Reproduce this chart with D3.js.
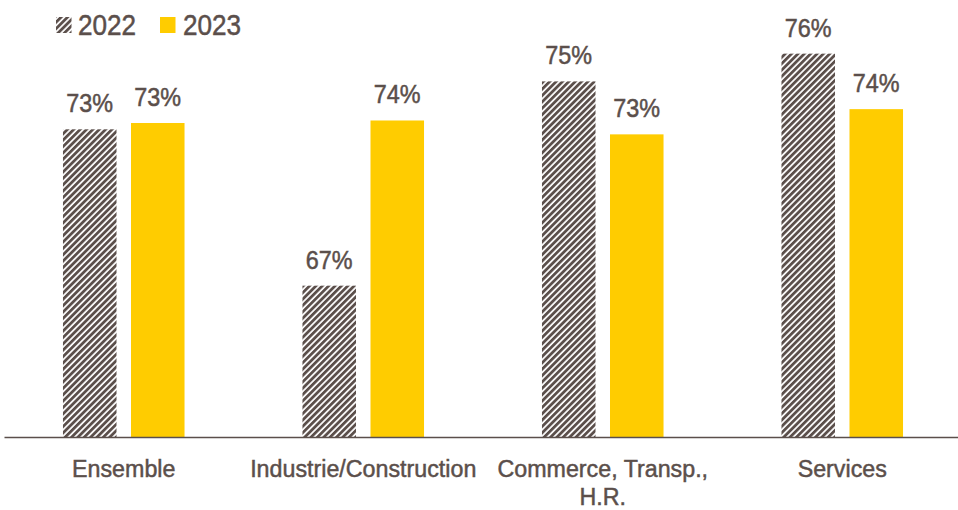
<!DOCTYPE html>
<html>
<head>
<meta charset="utf-8">
<script src="https://cdn.jsdelivr.net/npm/d3@7"></script>
<style>
  html, body { margin: 0; padding: 0; background: #fff; }
  svg { display: block; }
  text { font-family: "Liberation Sans", Arial, sans-serif; fill: #5b4f4b; stroke: #5b4f4b; stroke-width: 0.5px; }
</style>
</head>
<body>
<svg id="chart" width="958" height="510"></svg>
<script>
// Taux par secteur, 2022 vs 2023 (%)
const categories = ["Ensemble", "Industrie/Construction", "Commerce, Transp., H.R.", "Services"];
const seriesNames = ["2022", "2023"];
const values2022 = [73.2, 67.0, 75.1, 76.2];
const values2023 = [73.45, 73.55, 73.0, 74.0];

const baseY = 437;
const ink = "#5b4f4b";
const svg = d3.select("#chart");

// Striped fill used for the 2022 series
const defs = svg.append("defs");
const pat = defs.append("pattern")
  .attr("id", "stripes")
  .attr("patternUnits", "userSpaceOnUse")
  .attr("width", 4.5).attr("height", 4.5)
  .attr("patternTransform", "rotate(45)");
pat.append("rect").attr("width", 4.5).attr("height", 4.5).attr("fill", "#ffffff");
pat.append("rect").attr("width", 2.8).attr("height", 4.5).attr("fill", ink);

const fills = { "2022": "url(#stripes)", "2023": "#ffcc00" };

const x0 = d3.scaleBand().domain(categories).range([4, 962]).paddingInner(0).paddingOuter(0);
const x1 = d3.scaleBand().domain(seriesNames).range([0, x0.bandwidth()]).paddingInner(0.213).paddingOuter(0.867);
const y = d3.scaleLinear().domain([61, 78]).range([baseY, 8.26]);

const rows = categories.map((c, i) => ({ cat: c, vals: [
  { key: "2022", v: values2022[i] },
  { key: "2023", v: values2023[i] }
]}));

const fmt = v => d3.format(".0f")(v) + "%";

const groups = svg.append("g").selectAll("g").data(rows).join("g")
  .attr("transform", d => `translate(${x0(d.cat)},0)`);

groups.selectAll("rect").data(d => d.vals).join("rect")
  .attr("x", d => x1(d.key))
  .attr("width", x1.bandwidth())
  .attr("y", d => y(d.v))
  .attr("height", d => baseY - y(d.v))
  .attr("fill", d => fills[d.key]);

// Value labels, narrowed horizontally
groups.selectAll("text.val").data(d => d.vals).join("text")
  .attr("class", "val")
  .attr("transform", d => `translate(${x1(d.key) + x1.bandwidth() / 2},${y(d.v) - 17}) scale(0.9,1)`)
  .attr("text-anchor", "middle")
  .style("font-size", "26px")
  .text(d => fmt(d.v));

// Category axis
const axis = svg.append("g")
  .attr("transform", `translate(0,${baseY})`)
  .call(d3.axisBottom(x0).tickSize(0).tickPadding(0));
axis.select(".domain").attr("stroke", ink).attr("stroke-width", 1.6);
axis.selectAll(".tick text").remove();

// Wrapped category labels
const sx = 0.95;
axis.selectAll(".tick").each(function(d) {
  const t = d3.select(this).append("text")
    .attr("text-anchor", "middle")
    .attr("transform", `scale(${sx},1)`)
    .style("font-size", "24.5px");
  const words = d.split(" ");
  let line = [], lineNo = 0;
  let ts = t.append("tspan").attr("x", 0).attr("y", 40.5);
  for (const w of words) {
    line.push(w);
    ts.text(line.join(" "));
    if (ts.node().getComputedTextLength() * sx > 236 && line.length > 1) {
      line.pop();
      ts.text(line.join(" "));
      line = [w];
      lineNo++;
      ts = t.append("tspan").attr("x", 0).attr("y", 40.5 + lineNo * 27.5).text(w);
    }
  }
});

// Legend
const legend = svg.append("g");
const legItems = [
  { key: "2022", sx: 56, tx: 78 },
  { key: "2023", sx: 160, tx: 183 }
];
legend.selectAll("rect").data(legItems).join("rect")
  .attr("x", d => d.sx).attr("y", 17).attr("width", 15.5).attr("height", 16)
  .attr("fill", d => fills[d.key]);
legend.selectAll("text").data(legItems).join("text")
  .attr("transform", d => `translate(${d.tx},35) scale(0.9,1)`)
  .style("font-size", "29px")
  .text(d => d.key);
</script>
</body>
</html>
